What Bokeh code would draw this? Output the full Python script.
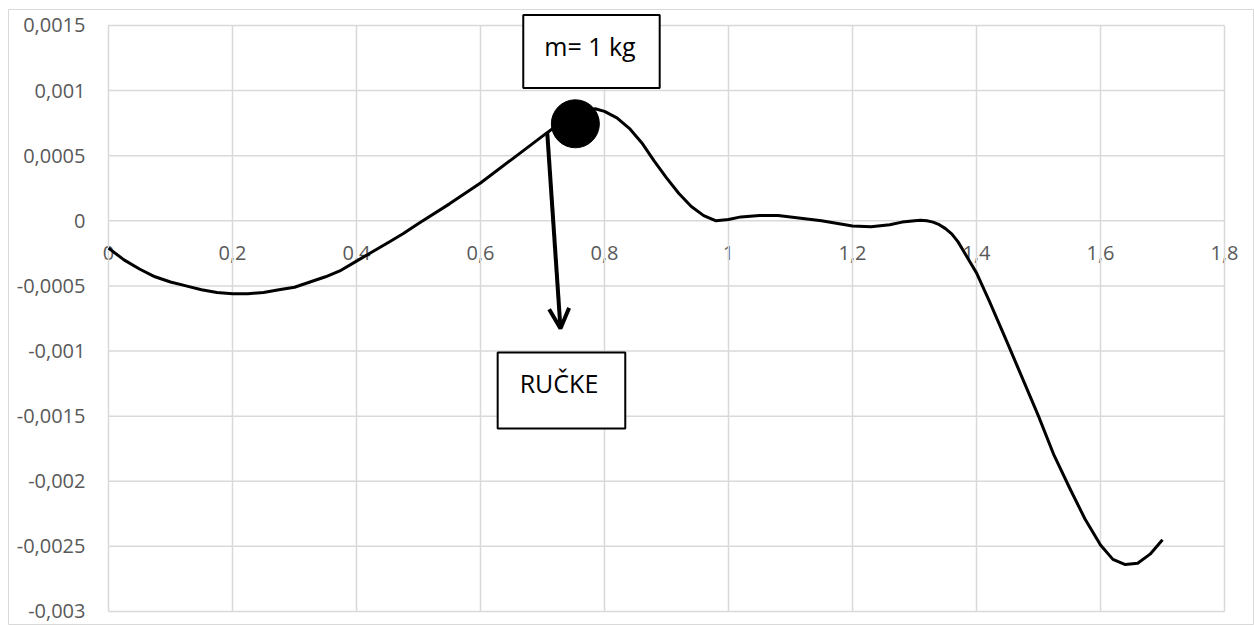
from bokeh.plotting import figure
from bokeh.models import (Range1d, LabelSet, ColumnDataSource, Label, Arrow, OpenHead)
from bokeh.core.properties import value
from bokeh.embed import file_html
from bokeh.resources import INLINE

# ---- data ----
x_vals = [0.0, 0.025, 0.05, 0.075, 0.1, 0.125, 0.15, 0.175, 0.2, 0.225, 0.25, 0.275, 0.3,
          0.325, 0.35, 0.375, 0.4, 0.425, 0.45, 0.475, 0.5, 0.55, 0.6, 0.65, 0.7, 0.72,
          0.75, 0.77, 0.785, 0.8, 0.82, 0.84, 0.86, 0.88, 0.9, 0.92, 0.94, 0.96, 0.98,
          1.0, 1.02, 1.05, 1.08, 1.1, 1.15, 1.2, 1.23, 1.26, 1.28, 1.3, 1.31, 1.32, 1.33,
          1.34, 1.35, 1.36, 1.37, 1.38, 1.39, 1.4, 1.42, 1.45, 1.475, 1.5, 1.525, 1.55,
          1.575, 1.6, 1.62, 1.64, 1.66, 1.68, 1.7]
y_vals = [-0.00021, -0.0003, -0.00037, -0.00043, -0.00047, -0.0005, -0.00053, -0.00055,
          -0.00056, -0.00056, -0.00055, -0.00053, -0.00051, -0.00047, -0.00043, -0.00038,
          -0.00031, -0.00024, -0.00017, -0.0001, -0.00002, 0.00013, 0.00029, 0.00047,
          0.00065, 0.00072, 0.0008, 0.00084, 0.00086, 0.00084, 0.00079, 0.00071, 0.0006,
          0.00046, 0.00033, 0.00021, 0.00011, 0.00004, 0.0, 0.00001, 0.00003, 0.00004,
          0.00004, 0.00003, 0.0, -0.00004, -0.000045, -0.00003, -0.00001, 0.0, 0.000005,
          0.0, -0.00001, -0.00003, -0.00006, -0.0001, -0.00016, -0.00024, -0.00032,
          -0.0004, -0.00061, -0.00094, -0.00122, -0.0015, -0.0018, -0.00205, -0.00229,
          -0.00249, -0.0026, -0.00264, -0.00263, -0.00256, -0.00245]

x_ticks = [0, 0.2, 0.4, 0.6, 0.8, 1.0, 1.2, 1.4, 1.6, 1.8]
x_tick_labels = ["0", "0,2", "0,4", "0,6", "0,8", "1", "1,2", "1,4", "1,6", "1,8"]
y_ticks = [-0.003, -0.0025, -0.002, -0.0015, -0.001, -0.0005, 0, 0.0005, 0.001, 0.0015]
y_tick_labels = ["-0,003", "-0,0025", "-0,002", "-0,0015", "-0,001", "-0,0005", "0",
                 "0,0005", "0,001", "0,0015"]

mass_text = "m= 1 kg"
mass_pos = (0.779, 0.0013001)
handle_text = "RUČKE"
handle_pos = (0.7306, -0.0013032)
ball_pos = (0.753, 0.000745)
arrow_start = (0.7076, 0.00068)
arrow_end = (0.729, -0.000827)

GRID = "#d9d9d9"
TICK = "#595959"
FONT = "Open Sans"

# frame spans the whole chart area; the gridded plot area sits inside it
p = figure(width=1254, height=625, output_backend="svg", toolbar_location=None,
           x_range=Range1d(-0.16129, 1.848387), y_range=Range1d(-0.0031078, 0.0016226),
           min_border_left=8, min_border_right=0, min_border_top=9, min_border_bottom=0)
p.outline_line_color = GRID
p.outline_line_width = 1
p.background_fill_color = "white"
p.border_fill_color = "white"
p.xaxis.visible = False
p.yaxis.visible = False
p.xgrid.visible = False
p.ygrid.visible = False

# gridlines limited to the plot area
nx, ny = len(x_ticks), len(y_ticks)
p.segment(x0=x_ticks, y0=[y_ticks[0]] * nx, x1=x_ticks, y1=[y_ticks[-1]] * nx,
          line_color=GRID, line_width=1.5)
p.segment(x0=[x_ticks[0]] * ny, y0=y_ticks, x1=[x_ticks[-1]] * ny, y1=y_ticks,
          line_color=GRID, line_width=1.5)

# tick labels
ysrc = ColumnDataSource(dict(x=[x_ticks[0]] * ny, y=y_ticks, t=y_tick_labels))
p.add_layout(LabelSet(x="x", y="y", text="t", source=ysrc, text_align="right",
                      text_baseline="middle", x_offset=-23, text_font=value(FONT),
                      text_font_size=value("20px"), text_color=value(TICK)))
xsrc = ColumnDataSource(dict(x=x_ticks, y=[0] * nx, t=x_tick_labels))
p.add_layout(LabelSet(x="x", y="y", text="t", source=xsrc, text_align="center",
                      text_baseline="middle", y_offset=-32, text_font=value(FONT),
                      text_font_size=value("20px"), text_color=value(TICK),
                      level="underlay"))

src = ColumnDataSource(dict(x=x_vals, y=y_vals))
p.line("x", "y", source=src, line_color="black", line_width=3, line_join="round")

p.scatter([ball_pos[0]], [ball_pos[1]], size=48, color="black")

p.add_layout(Arrow(end=OpenHead(size=20, line_width=4, line_color="black"),
                   x_start=arrow_start[0], y_start=arrow_start[1],
                   x_end=arrow_end[0], y_end=arrow_end[1],
                   line_width=4, line_color="black"))

p.add_layout(Label(x=mass_pos[0], y=mass_pos[1], text=mass_text, text_align="center",
                   text_baseline="middle", text_font=FONT, text_font_size="25px",
                   text_color="black", background_fill_color="white",
                   border_line_color="black", border_line_width=2,
                   padding=dict(left=21, right=24, top=14, bottom=25)))
p.add_layout(Label(x=handle_pos[0], y=handle_pos[1], text=handle_text, text_align="center",
                   text_baseline="middle", text_font=FONT, text_font_size="25px",
                   text_color="black", background_fill_color="white",
                   border_line_color="black", border_line_width=2,
                   padding=dict(left=22, right=27, top=13, bottom=29)))

open("out.html", "w").write(file_html(p, INLINE))
